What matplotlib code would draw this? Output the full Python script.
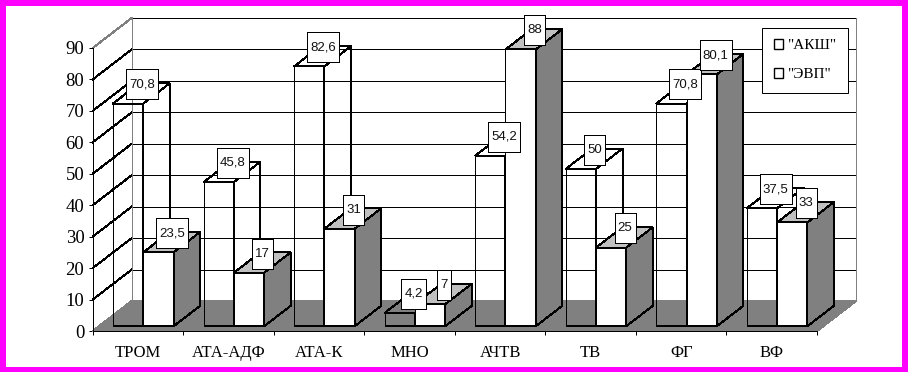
"""3D-style clustered bars, drawn as polygons on a flat axes."""

import matplotlib.pyplot as plt
from matplotlib.patches import Polygon, Rectangle

categories = ["ТРОМ", "АТА-АДФ", "АТА-К", "МНО", "АЧТВ", "ТВ", "ФГ", "ВФ"]
akhs_values = [70.8, 45.8, 82.6, 4.2, 54.2, 50, 70.8, 37.5]
evp_values = [23.5, 17, 31, 7, 88, 25, 80.1, 33]
akhs_name = '"АКШ"'
evp_name = '"ЭВП"'
y_ticks = [0, 10, 20, 30, 40, 50, 60, 70, 80, 90]

W, H = 908, 372
AX_L, AX_R, AX_B, AX_T = 92.7, 817.0, 331.0, 48.0
PX_X = (AX_R - AX_L) / 8
PX_Y = (AX_B - AX_T) / 90
DEPTH_X = 39 / PX_X
DEPTH_Y = 30 / PX_Y
BAR_W = 0.335
BAR_START = 0.155
D0, D1 = 0.16, 0.84
LW = 0.72

SERIF = ["Liberation Serif", "DejaVu Serif"]
SANS = ["Liberation Sans", "DejaVu Sans"]


def pt(x, v, d=0.0):
    return (x + d * DEPTH_X, v + d * DEPTH_Y)


def poly(ax, pts, fc, z, lw=LW, ec="black"):
    p = Polygon(pts, closed=True, facecolor=fc, edgecolor=ec, linewidth=lw,
                antialiased=False, clip_on=False, zorder=z)
    ax.add_patch(p)


def draw_bar(ax, x, v, front, top, side, z):
    r = x + BAR_W
    poly(ax, [pt(x, 0, D0), pt(r, 0, D0), pt(r, v, D0), pt(x, v, D0)], front, z)
    poly(ax, [pt(x, v, D0), pt(r, v, D0), pt(r, v, D1), pt(x, v, D1)], top, z)
    poly(ax, [pt(r, 0, D0), pt(r, 0, D1), pt(r, v, D1), pt(r, v, D0)], side, z)
    xs, ys = zip(pt(x, 0, D0), pt(r, 0, D0))
    ax.plot(xs, ys, color="black", lw=1.4, solid_capstyle="butt", clip_on=False,
            antialiased=False, zorder=z)


def draw_label(ax, x, v, z):
    txt = f"{v:g}".replace(".", ",")
    digits = sum(c.isdigit() for c in txt)
    w = (7 + 7 * digits + (4 if "," in txt else 0)) / PX_X
    h = 30 / PX_Y
    cx, cy = pt(x, v, D1)
    cx = cx + 2.5 / PX_X
    cy = cy - 1.2 / PX_Y
    ax.add_patch(Rectangle((cx - w / 2, cy - h / 2), w, h, facecolor="white", edgecolor="black",
                           linewidth=LW, antialiased=False, clip_on=False, zorder=z))
    ax.text(cx, cy, txt, ha="center", va="center", fontsize=9.5, family=SANS,
            color="#111111", zorder=z + 0.1)


fig = plt.figure(figsize=(W / 100, H / 100), dpi=100, facecolor="#FF00FF")
fig.add_artist(Rectangle((6 / W, 5 / H), (W - 12) / W, (H - 11) / H, transform=fig.transFigure,
                         facecolor="white", edgecolor="none", zorder=-1))
ax = fig.add_axes([AX_L / W, 1 - AX_B / H, (AX_R - AX_L) / W, (AX_B - AX_T) / H])
ax.patch.set_visible(False)
ax.set_xlim(0, 8)
ax.set_ylim(0, 90)

# walls
for t in y_ticks:
    color = "#808080" if t == 90 else "black"
    xs, ys = zip(pt(0, t), pt(0, t, 1))
    ax.plot(xs, ys, color=color, lw=LW, clip_on=False, antialiased=False, zorder=1)
    if t > 0:
        xs, ys = zip(pt(0, t, 1), pt(8, t, 1))
        ax.plot(xs, ys, color="black", lw=LW, clip_on=False, antialiased=False, zorder=1)
for x in (0, 8):
    xs, ys = zip(pt(x, 0, 1), pt(x, 90, 1))
    ax.plot(xs, ys, color="#808080", lw=LW, clip_on=False, antialiased=False, zorder=1)
poly(ax, [pt(0, 0), pt(8, 0), pt(8, 0, 1), pt(0, 0, 1)], "#808080", 2, ec="#808080")

# bars, back series is see-through
for i in range(len(categories)):
    x0 = i + BAR_START
    x1 = x0 + BAR_W
    draw_bar(ax, x0, akhs_values[i], "none", "none", "none", 3)
    draw_bar(ax, x1, evp_values[i], "white", "#C0C0C0", "#808080", 4)
for i in range(len(categories)):
    x0 = i + BAR_START
    draw_label(ax, x0, akhs_values[i], 5)
    draw_label(ax, x0 + BAR_W, evp_values[i], 5.2 + i * 0.01)

for s in ("top", "right"):
    ax.spines[s].set_visible(False)
for s in ("left", "bottom"):
    ax.spines[s].set_linewidth(LW)
    ax.spines[s].set_zorder(6)
ax.set_yticks(y_ticks)
ax.set_yticklabels([str(t) for t in y_ticks], family=SERIF, fontsize=13.5)
ax.set_xticks(range(9))
ax.set_xticklabels([])
ax.set_xticks([i + 0.5 for i in range(8)], minor=True)
ax.set_xticklabels(categories, minor=True, family=SERIF, fontsize=12)
ax.tick_params(axis="y", length=3, width=LW, pad=3)
ax.tick_params(axis="x", which="major", length=3, width=LW)
ax.tick_params(axis="x", which="minor", length=0, pad=10)

h1 = Rectangle((0, 0), 1, 1, facecolor="white", edgecolor="black", linewidth=1.0)
h2 = Rectangle((0, 0), 1, 1, facecolor="white", edgecolor="black", linewidth=1.0)
leg = ax.legend([h1, h2], [akhs_name, evp_name], loc="upper left",
                bbox_to_anchor=(762.3 / W, 1 - 27.5 / H), bbox_transform=fig.transFigure,
                prop={"family": SERIF, "size": 11}, fancybox=False, framealpha=1, edgecolor="black",
                handlelength=0.6, handleheight=0.6, handletextpad=0.3, labelspacing=1.05,
                borderpad=0.75, borderaxespad=0)
leg.get_frame().set_linewidth(LW)
leg.set_zorder(7)

fig.savefig("out.png", dpi=100, facecolor=fig.get_facecolor())
plt.close(fig)
